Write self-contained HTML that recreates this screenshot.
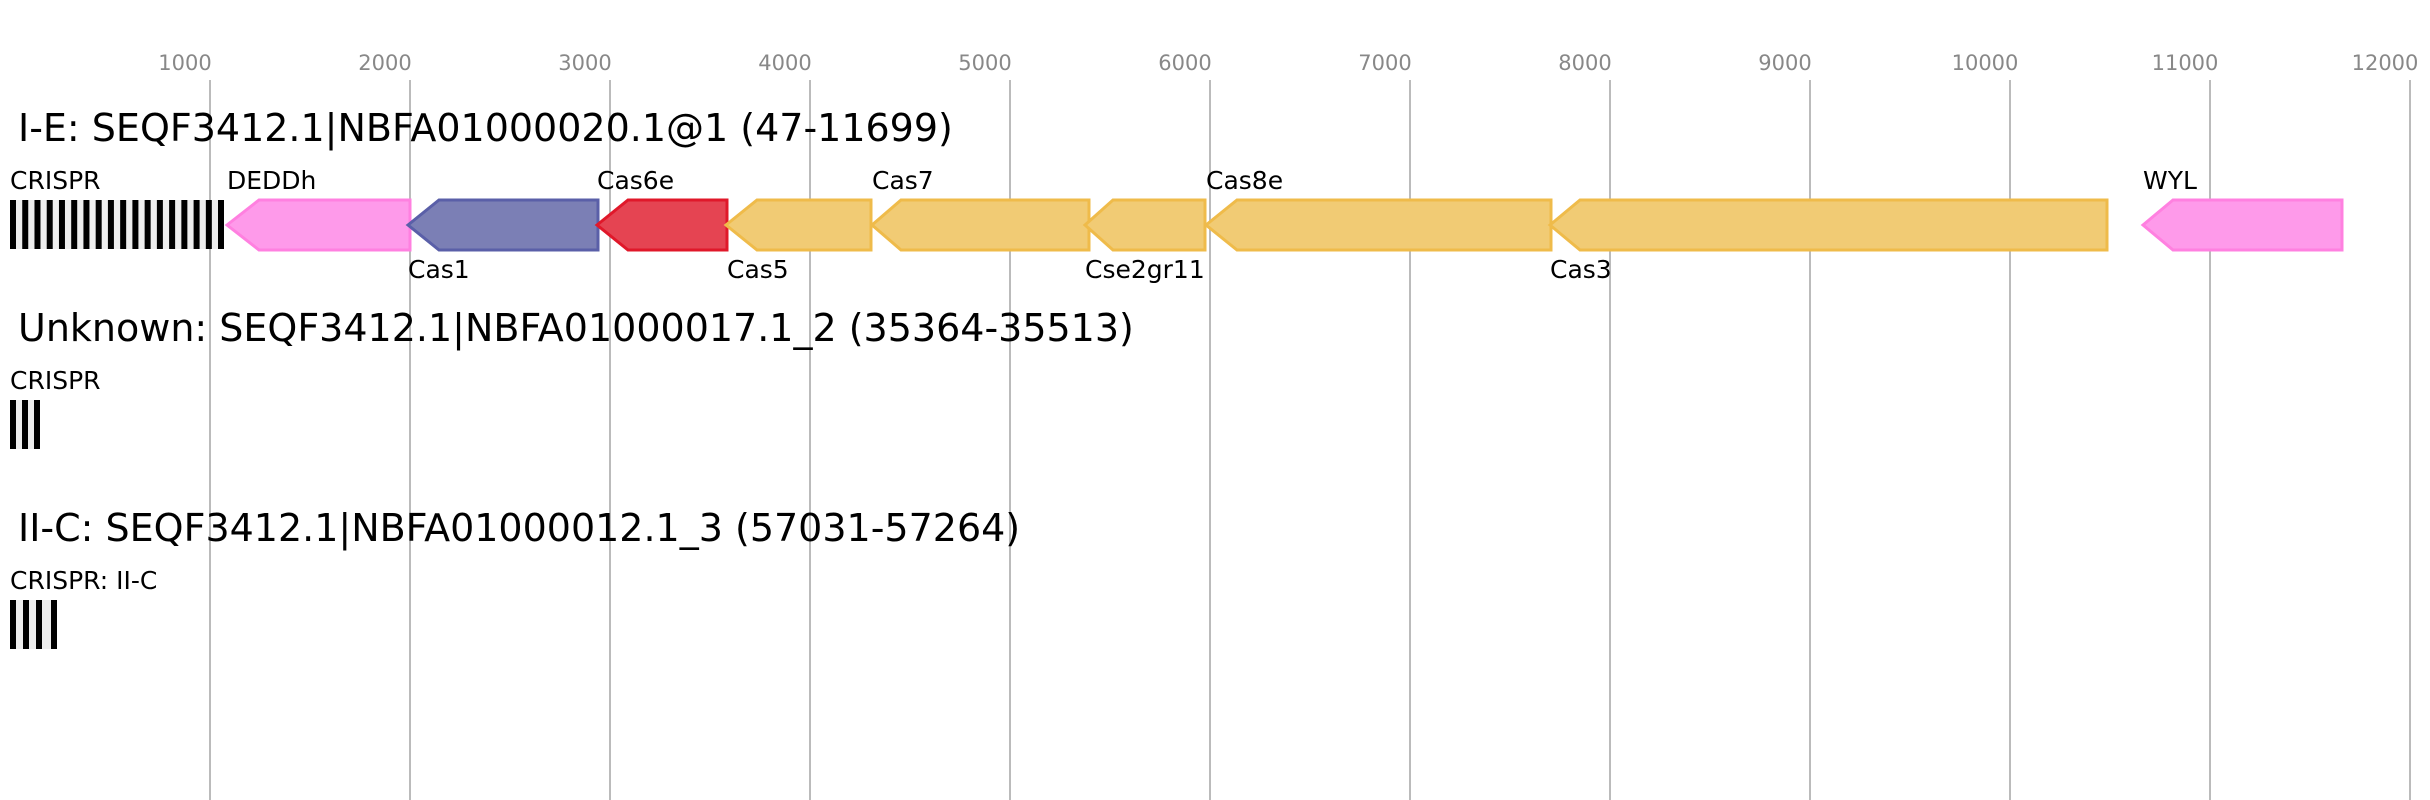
<!DOCTYPE html>
<html><head><meta charset="utf-8"><style>
html,body{margin:0;padding:0;background:#fff;}
svg{display:block;font-family:"DejaVu Sans","Liberation Sans",sans-serif;}
</style></head><body>
<svg width="2430" height="800" viewBox="0 0 2430 800" xmlns="http://www.w3.org/2000/svg">
<rect width="2430" height="800" fill="#fff"/>
<g stroke="#bbb" stroke-width="2">
<line x1="210" y1="80" x2="210" y2="800"/><line x1="410" y1="80" x2="410" y2="800"/><line x1="610" y1="80" x2="610" y2="800"/><line x1="810" y1="80" x2="810" y2="800"/><line x1="1010" y1="80" x2="1010" y2="800"/><line x1="1210" y1="80" x2="1210" y2="800"/><line x1="1410" y1="80" x2="1410" y2="800"/><line x1="1610" y1="80" x2="1610" y2="800"/><line x1="1810" y1="80" x2="1810" y2="800"/><line x1="2010" y1="80" x2="2010" y2="800"/><line x1="2210" y1="80" x2="2210" y2="800"/><line x1="2410" y1="80" x2="2410" y2="800"/>
</g>
<g fill="#888" font-size="21" text-anchor="middle">
<text x="185" y="70">1000</text><text x="385" y="70">2000</text><text x="585" y="70">3000</text><text x="785" y="70">4000</text><text x="985" y="70">5000</text><text x="1185" y="70">6000</text><text x="1385" y="70">7000</text><text x="1585" y="70">8000</text><text x="1785" y="70">9000</text><text x="1985" y="70">10000</text><text x="2185" y="70">11000</text><text x="2385" y="70">12000</text>
</g>
<g font-size="38" fill="#000">
<text x="18" y="141">I-E: SEQF3412.1|NBFA01000020.1@1 (47-11699)</text>
<text x="18" y="341">Unknown: SEQF3412.1|NBFA01000017.1_2 (35364-35513)</text>
<text x="18" y="541">II-C: SEQF3412.1|NBFA01000012.1_3 (57031-57264)</text>
</g>
<g font-size="25" fill="#000">
<text x="10" y="189">CRISPR</text>
<text x="10" y="389">CRISPR</text>
<text x="10" y="589">CRISPR: II-C</text>
<text x="227" y="189">DEDDh</text>
<text x="408" y="278">Cas1</text>
<text x="597" y="189">Cas6e</text>
<text x="727" y="278">Cas5</text>
<text x="872" y="189">Cas7</text>
<text x="1085" y="278">Cse2gr11</text>
<text x="1206" y="189">Cas8e</text>
<text x="1550" y="278">Cas3</text>
<text x="2143" y="189">WYL</text>
</g>
<rect x="10" y="200" width="214" height="49" fill="#eee"/>
<g fill="#000">
<rect x="10" y="200" width="6" height="49"/><rect x="22.24" y="200" width="6" height="49"/><rect x="34.48" y="200" width="6" height="49"/><rect x="46.72" y="200" width="6" height="49"/><rect x="58.96" y="200" width="6" height="49"/><rect x="71.2" y="200" width="6" height="49"/><rect x="83.44" y="200" width="6" height="49"/><rect x="95.68" y="200" width="6" height="49"/><rect x="107.92" y="200" width="6" height="49"/><rect x="120.16" y="200" width="6" height="49"/><rect x="132.4" y="200" width="6" height="49"/><rect x="144.64" y="200" width="6" height="49"/><rect x="156.88" y="200" width="6" height="49"/><rect x="169.12" y="200" width="6" height="49"/><rect x="181.36" y="200" width="6" height="49"/><rect x="193.6" y="200" width="6" height="49"/><rect x="205.84" y="200" width="6" height="49"/><rect x="218" y="200" width="6" height="49"/>
</g>
<rect x="10" y="400" width="30" height="49" fill="#eee"/>
<g fill="#000"><rect x="10" y="400" width="6" height="49"/><rect x="22" y="400" width="6" height="49"/><rect x="34" y="400" width="6" height="49"/></g>
<rect x="10" y="600" width="47" height="49" fill="#eee"/>
<g fill="#000"><rect x="10" y="600" width="6" height="49"/><rect x="23" y="600" width="6" height="49"/><rect x="36" y="600" width="6" height="49"/><rect x="51" y="600" width="6" height="49"/></g>
<g stroke-width="3" stroke-linejoin="miter">
<polygon points="227,225 259,200 410,200 410,250 259,250" fill="#fe9aea" stroke="#ff80e0"/>
<polygon points="408,225 439,200 598,200 598,250 439,250" fill="#7b7fb5" stroke="#5a5fa8"/>
<polygon points="597,225 628,200 727,200 727,250 628,250" fill="#e54452" stroke="#e0182a"/>
<polygon points="726,225 757,200 871,200 871,250 757,250" fill="#f1cb74" stroke="#efbb4a"/>
<polygon points="872,225 901,200 1089,200 1089,250 901,250" fill="#f1cb74" stroke="#efbb4a"/>
<polygon points="1085,225 1113,200 1205,200 1205,250 1113,250" fill="#f1cb74" stroke="#efbb4a"/>
<polygon points="1206,225 1237,200 1551,200 1551,250 1237,250" fill="#f1cb74" stroke="#efbb4a"/>
<polygon points="1550,225 1580,200 2107,200 2107,250 1580,250" fill="#f1cb74" stroke="#efbb4a"/>
<polygon points="2143,225 2173,200 2342,200 2342,250 2173,250" fill="#fe9aea" stroke="#ff80e0"/>
</g>
</svg>
</body></html>
